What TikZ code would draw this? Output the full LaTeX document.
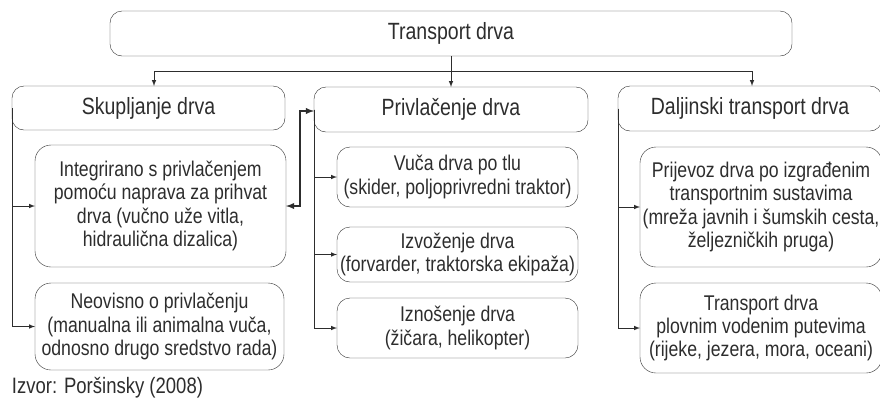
\documentclass[tikz,border=0pt]{standalone}
\usepackage{fontspec}
\setmainfont[FakeStretch=0.83]{Liberation Sans}
\usetikzlibrary{positioning,arrows}
\definecolor{ink}{RGB}{45,45,45}

\begin{document}
\begin{tikzpicture}[x=1pt,y=-1pt,
hbox/.style={draw=ink, text=ink, rounded corners=12pt, inner sep=0pt, align=center, font=\fontsize{23.5}{27}\selectfont},
ibox/.style={draw=ink, text=ink, rounded corners=16pt, inner sep=0pt, align=center, font=\fontsize{21.3}{23.3}\selectfont},
link/.style={draw=ink, line width=1pt, -latex},
every node/.style={outer sep=0pt}
]
\useasboundingbox (0,0) rectangle (880,408);
\clip (0,0) rectangle (880,408);
\node[hbox, minimum width=682pt, minimum height=45pt] (top) at (451,33.5) {Transport drva};
\node[hbox, minimum width=273pt, minimum height=44pt] (skup) at (148.5,108) {Skupljanje drva};
\node[hbox, minimum width=274pt, minimum height=45pt] (priv) at (451,109.5) {Privlačenje drva};
\node[hbox, minimum width=264pt, minimum height=45pt] (dalj) at (750,108.5) {Daljinski transport drva};

\node[ibox, minimum width=251pt, minimum height=122pt] (integ) at (160.5,206) {Integrirano s privlačenjem\\pomoću naprava za prihvat\\drva (vučno uže vitla,\\hidraulična dizalica)};
\node[ibox, minimum width=249pt, minimum height=87pt] (neov) at (159.5,326.5) {Neovisno o privlačenju\\(manualna ili animalna vuča,\\odnosno drugo sredstvo rada)};
\node[ibox, rounded corners=13pt, minimum width=241pt, minimum height=60pt] (vuca) at (457.5,177) {Vuča drva po tlu\\(skider, poljoprivredni traktor)};
\node[ibox, rounded corners=13pt, minimum width=241pt, minimum height=55pt] (izvoz) at (457.5,254.5) {Izvoženje drva\\(forvarder, traktorska ekipaža)};
\node[ibox, rounded corners=13pt, minimum width=241pt, minimum height=60pt] (iznos) at (457.5,328) {Iznošenje drva\\(žičara, helikopter)};
\node[ibox, minimum width=242pt, minimum height=120pt] (prij) at (761,207) {Prijevoz drva po izgrađenim\\transportnim sustavima\\(mreža javnih i šumskih cesta,\\željezničkih pruga)};
\node[ibox, minimum width=242pt, minimum height=90pt] (plov) at (761,328) {Transport drva\\plovnim vodenim putevima\\(rijeke, jezera, mora, oceani)};

\node[text=ink, anchor=west, inner sep=0pt, font=\fontsize{22.3}{25}\selectfont] (izvor) at (12,388) {Izvor: Poršinsky (2008)};

\coordinate (bus) at (451,71);
\draw[link] (top.south) -- (priv.north);
\draw[link] (bus) -| ([xshift=5.5pt]skup.north);
\draw[link] (bus) -| ([xshift=2pt]dalj.north);

\draw[link] (skup.west) |- (integ.west);
\draw[link] (skup.west) |- (neov.west);
\draw[link] (priv.west) |- (vuca.west);
\draw[link] (priv.west) |- (izvoz.west);
\draw[link] (priv.west) |- (iznos.west);
\draw[link] (dalj.west) |- (prij.west);
\draw[link] (dalj.west) |- (plov.west);

\draw[link, latex-latex, line width=1.8pt] (integ.east) -- ++(14,0) |- ([yshift=-1.5pt]priv.west);
\end{tikzpicture}
\end{document}
